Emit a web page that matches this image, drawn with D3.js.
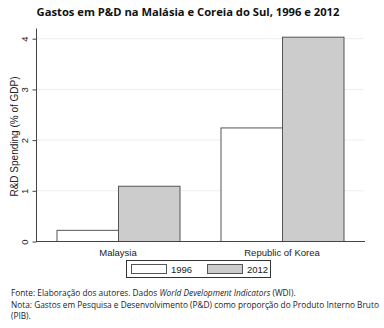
<!DOCTYPE html>
<html><head><meta charset="utf-8">
<script src="https://cdn.jsdelivr.net/npm/d3@7"></script>
<style>body{margin:0;background:#fff}svg{display:block}</style>
</head><body>
<svg id="c" width="384" height="328"></svg>
<script>
const categories = ["Malaysia", "Republic of Korea"];
const years = ["1996", "2012"];
const values1996 = [0.22, 2.24];
const values2012 = [1.09, 4.03];
const yTicks = [0, 1, 2, 3, 4];
const titleText = "Gastos em P&D na Malásia e Coreia do Sul, 1996 e 2012";
const yLabel = "R&D Spending (% of GDP)";

(function(){
const svg = d3.select("#c");
const AF = "Liberation Sans";
const pLeft = 36, pRight = 364, pTop = 28, pBottom = 241;
const x0 = d3.scaleBand().domain(categories).range([pLeft, pRight]).paddingInner(0.25).paddingOuter(0.125);
const x1 = d3.scaleBand().domain(years).range([0, x0.bandwidth()]);
const y = d3.scaleLinear().domain([0, 4]).range([pBottom, pBottom - 4 * 50.7]);
const fills = {"1996": "#ffffff", "2012": "#cccccc"};
const series = {"1996": values1996, "2012": values2012};

// title
svg.append("text").attr("x", 188).attr("y", 16).attr("text-anchor", "middle")
  .attr("font-family", "Open Sans").attr("font-weight", "bold").attr("font-size", 11.2)
  .attr("fill", "#111").text(titleText);

// gridlines
svg.append("g").selectAll("line").data(yTicks.filter(d => d > 0)).join("line")
  .attr("x1", pLeft).attr("x2", pRight).attr("y1", d => y(d) + 0.5).attr("y2", d => y(d) + 0.5)
  .attr("stroke", "#eeeeee").attr("stroke-width", 1);

// bars
const g = svg.append("g");
categories.forEach((c, i) => {
  years.forEach(yr => {
    const v = series[yr][i];
    g.append("rect")
      .attr("x", x0(c) + x1(yr) + 0.5).attr("y", y(v) + 0.5)
      .attr("width", x1.bandwidth()).attr("height", y(0) - y(v))
      .attr("fill", fills[yr]).attr("stroke", "#555").attr("stroke-width", 1);
  });
});

// y axis
const yAxis = d3.axisLeft(y).tickValues(yTicks).tickFormat(d3.format("d")).tickSize(4).tickPadding(3);
const ya = svg.append("g").attr("transform", `translate(${pLeft + 0.5},0.5)`).call(yAxis)
  .attr("font-family", AF).attr("font-size", 9.5);
ya.select(".domain").attr("d", `M0,${pTop}V${pBottom}`).attr("stroke", "#444");
ya.selectAll(".tick line").attr("stroke", "#444");
ya.selectAll(".tick text").attr("fill", "#222")
  .attr("x", null).attr("dy", null)
  .attr("transform", "translate(-9,0) rotate(-90)").attr("text-anchor", "middle");

// x axis baseline
svg.append("line").attr("x1", pLeft).attr("x2", pRight + 1).attr("y1", pBottom + 0.5).attr("y2", pBottom + 0.5)
  .attr("stroke", "#444").attr("stroke-width", 1);

// category labels
const xAxis = d3.axisBottom(x0).tickSize(0).tickPadding(8);
const xa = svg.append("g").attr("transform", `translate(0,${pBottom})`).call(xAxis)
  .attr("font-family", AF).attr("font-size", 9.5);
xa.select(".domain").remove();
xa.selectAll(".tick text").attr("fill", "#222");

// y label
svg.append("text").attr("transform", `translate(18,${(pTop + pBottom) / 2 + 2}) rotate(-90)`)
  .attr("text-anchor", "middle").attr("font-family", AF).attr("font-size", 10)
  .attr("fill", "#222").text(yLabel);

// legend
const lg = svg.append("g");
lg.append("rect").attr("x", 126.5).attr("y", 260.5).attr("width", 144).attr("height", 17)
  .attr("fill", "#fff").attr("stroke", "#333");
const legX = [131, 207];
years.forEach((yr, i) => {
  lg.append("rect").attr("x", legX[i] + 0.5).attr("y", 264.5).attr("width", 35).attr("height", 9)
    .attr("fill", fills[yr]).attr("stroke", "#555");
  lg.append("text").attr("x", legX[i] + 40).attr("y", 272.5).attr("font-family", AF)
    .attr("font-size", 9.5).attr("fill", "#222").text(yr);
});

// footnote
const fn = svg.append("g").attr("font-family", "Open Sans").attr("font-size", 8.3).attr("fill", "#222");
const t1 = fn.append("text").attr("x", 11).attr("y", 296);
t1.append("tspan").text("Fonte: Elaboração dos autores. Dados ");
t1.append("tspan").attr("font-style", "italic").text("World Development Indicators");
t1.append("tspan").text(" (WDI).");
fn.append("text").attr("x", 11).attr("y", 308)
  .text("Nota: Gastos em Pesquisa e Desenvolvimento (P&D) como proporção do Produto Interno Bruto");
fn.append("text").attr("x", 11).attr("y", 319).text("(PIB).");
})();
</script>
</body></html>
